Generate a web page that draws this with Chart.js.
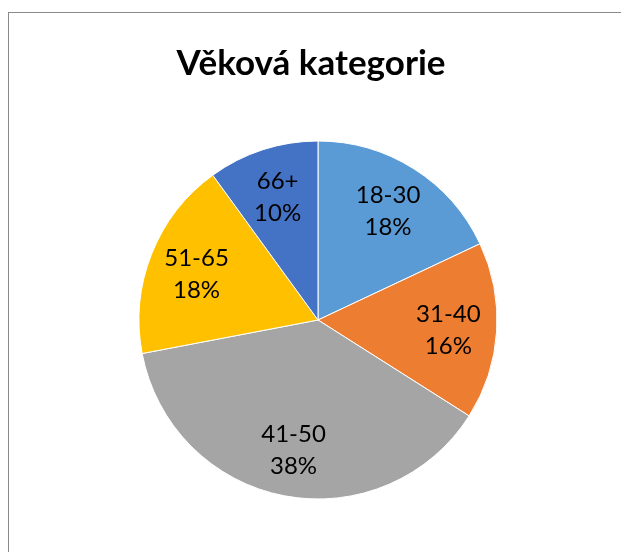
<!DOCTYPE html>
<html lang="cs">
<head>
<meta charset="utf-8">
<title>Věková kategorie</title>
<script src="https://cdn.jsdelivr.net/npm/chart.js@4/dist/chart.umd.min.js"></script>
<style>
    html, body { margin: 0; padding: 0; background: #fff; overflow: hidden; }
    #wrap { position: relative; width: 621px; height: 552px; }
    #frame {
        position: absolute; left: 8px; top: 12px;
        width: 640px; height: 600px;
        border: 1px solid #8a8a8a;
        box-sizing: border-box;
    }
    #pieChart { position: absolute; left: 0; top: 0; }
</style>
</head>
<body>
<div id="wrap">
    <div id="frame"></div>
    <canvas id="pieChart" width="621" height="552"></canvas>
</div>
<script>
const chartTitle = "Věková kategorie";
const labels = ["18-30", "31-40", "41-50", "51-65", "66+"];
const values = [18, 16, 38, 18, 10];
const colors = ["#5B9BD5", "#ED7D31", "#A5A5A5", "#FFC000", "#4472C4"];

// title + category/percent labels drawn on the canvas (no datalabels plugin offline)
const pieText = {
    id: "pieText",
    afterDatasetsDraw(chart) {
        const ctx = chart.ctx;
        ctx.save();
        ctx.fillStyle = "#000";
        ctx.textAlign = "center";
        ctx.textBaseline = "middle";

        ctx.font = "bold 35px Lato";
        ctx.fillText(chartTitle, 311, 64);

        const total = values.reduce((a, b) => a + b, 0);
        ctx.font = "24px Lato";
        chart.getDatasetMeta(0).data.forEach((arc, i) => {
            const p = arc.getProps(["x", "y", "startAngle", "endAngle", "outerRadius"], true);
            const mid = (p.startAngle + p.endAngle) / 2;
            const r = p.outerRadius * 0.73;
            const cx = p.x + Math.cos(mid) * r;
            const cy = p.y + Math.sin(mid) * r + 2;
            const pct = Math.round(values[i] / total * 100) + "%";
            ctx.fillText(labels[i], cx, cy - 16);
            ctx.fillText(pct, cx, cy + 16);
        });
        ctx.restore();
    }
};

const pieCtx = document.getElementById("pieChart").getContext("2d");

window.pieChartInstance = new Chart(pieCtx, {
    type: "pie",
    data: {
        labels: labels,
        datasets: [{
            data: values,
            backgroundColor: colors,
            borderColor: "#ffffff",
            borderWidth: 1,
            radius: 179
        }]
    },
    options: {
        responsive: false,
        animation: false,
        layout: {
            padding: { left: 15, right: 0, top: 141, bottom: 53 }
        },
        plugins: {
            legend: { display: false },
            title: { display: false },
            tooltip: { enabled: false }
        }
    },
    plugins: [pieText]
});
</script>
</body>
</html>
